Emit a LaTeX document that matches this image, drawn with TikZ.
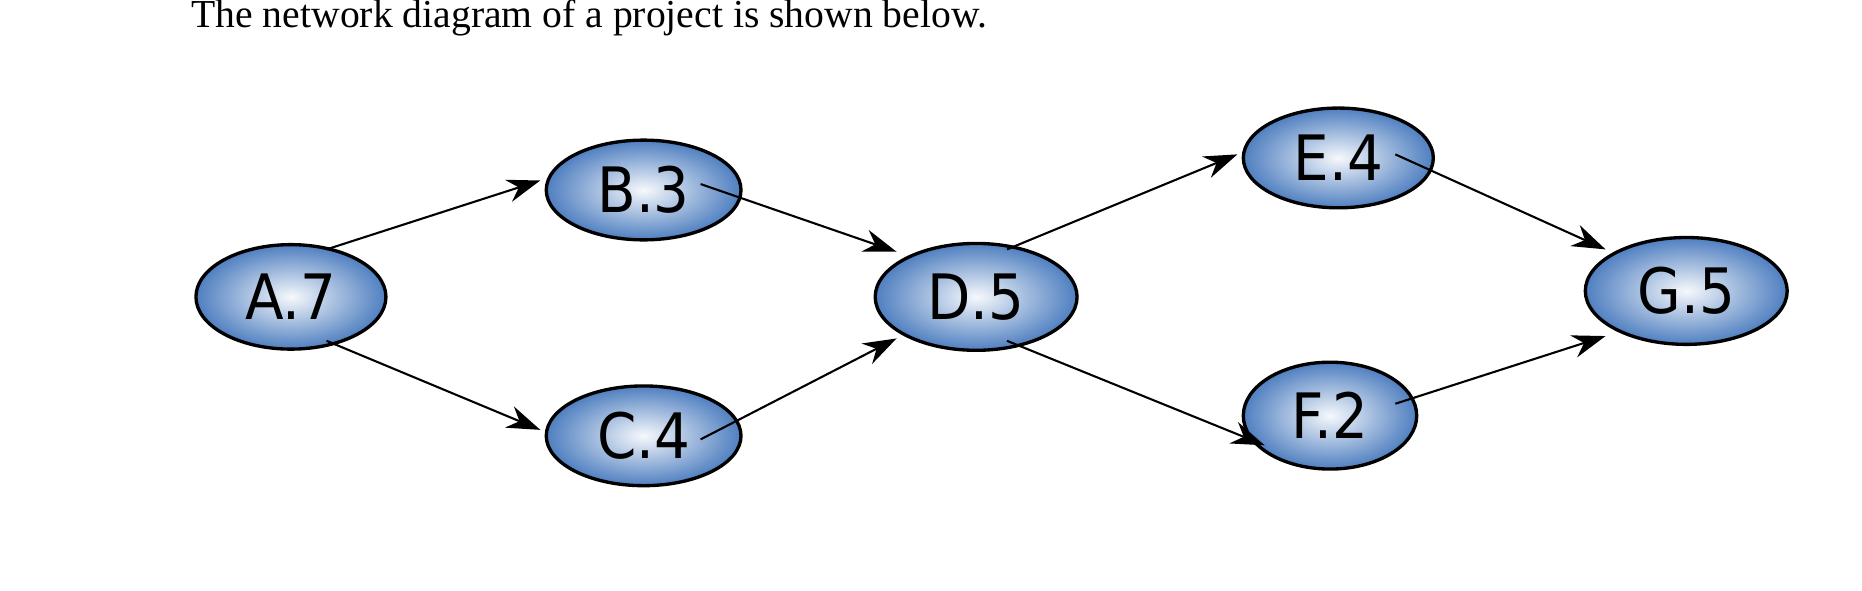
\documentclass[tikz,border=0pt]{standalone}
\usepackage{fontspec}
\setmainfont{Liberation Serif}
\newfontfamily\nodefont{DejaVu Sans Condensed}
\usetikzlibrary{shapes.geometric,arrows.meta}
\definecolor{nodeblue}{HTML}{4F7FC0}
\begin{document}
\begin{tikzpicture}[x=0.02cm,y=-0.02cm,
  ev/.style={ellipse,draw=black,line width=1.6pt,inner color=white!95!nodeblue,outer color=nodeblue,
    minimum width=160*0.02cm,minimum height=88*0.02cm,inner sep=0pt,
    font=\nodefont\fontsize{30}{30}\selectfont},
  arr/.style={-{Stealth[length=16pt,width=11pt]},line width=1pt}]
\useasboundingbox (0,0) rectangle (1568,497);
\node[anchor=west,font=\fontsize{19}{19}\selectfont] (T) at (155,15) {The network diagram of a project is shown below.};
\node[ev] (A) at (245,250) {A.7};
\node[ev,minimum width=164*0.02cm,minimum height=84*0.02cm] (B) at (542,160) {B.3};
\node[ev,minimum width=164*0.02cm,minimum height=84*0.02cm] (C) at (542,367) {C.4};
\node[ev,minimum width=170*0.02cm,minimum height=90*0.02cm] (D) at (822,250) {D.5};
\node[ev,minimum width=160*0.02cm,minimum height=84*0.02cm] (E) at (1127,133) {E.4};
\node[ev,minimum width=146*0.02cm,minimum height=90*0.02cm] (F) at (1120,350) {F.2};
\node[ev,minimum width=170*0.02cm,minimum height=90*0.02cm] (G) at (1420,245) {G.5};
\coordinate (a1) at ([shift={(30,-40)}]A.center);
\coordinate (a2) at ([shift={(30,37)}]A.center);
\coordinate (b1) at ([shift={(48,-5)}]B.center);
\coordinate (c1) at ([shift={(48,3)}]C.center);
\coordinate (d1) at ([shift={(26,-40)}]D.center);
\coordinate (d2) at ([shift={(26,37)}]D.center);
\coordinate (e1) at ([shift={(48,-3)}]E.center);
\coordinate (f1) at ([shift={(55,-10)}]F.center);
\coordinate (tb) at ([shift={(-87,-8)}]B.center);
\coordinate (tc) at ([shift={(-87,-5)}]C.center);
\coordinate (td1) at ([shift={(-67,-38)}]D.center);
\coordinate (td2) at ([shift={(-67,35)}]D.center);
\coordinate (te) at ([shift={(-85,-3)}]E.center);
\coordinate (tf) at ([shift={(-55,25)}]F.center);
\coordinate (tg1) at ([shift={(-68,-35)}]G.center);
\coordinate (tg2) at ([shift={(-68,38)}]G.center);
\draw[arr] (a1) -- (tb);
\draw[arr] (a2) -- (tc);
\draw[arr] (b1) -- (td1);
\draw[arr] (c1) -- (td2);
\draw[arr] (d1) -- (te);
\draw[arr] (d2) -- (tf);
\draw[arr] (e1) -- (tg1);
\draw[arr] (f1) -- (tg2);
\end{tikzpicture}
\end{document}
